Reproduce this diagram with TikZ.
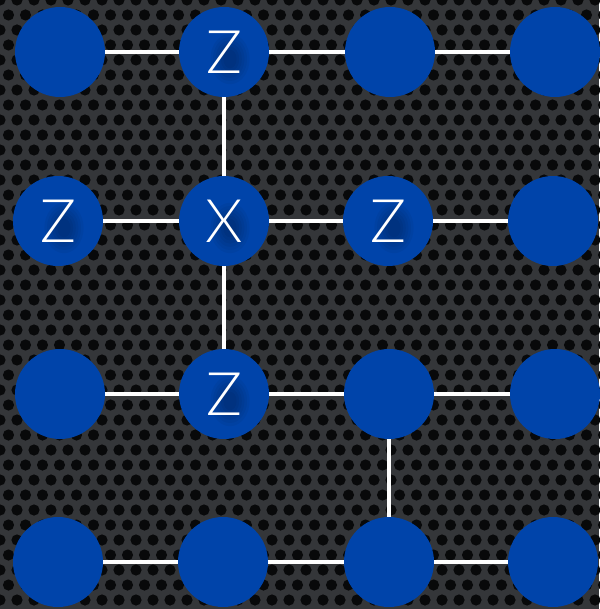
\documentclass[tikz,border=0pt]{standalone}
\usepackage{fontspec}
\newfontfamily\lblfont{Lato}[UprightFont=* Light]
\definecolor{qblue}{RGB}{0,68,170}
\definecolor{plate}{RGB}{52,54,57}
\definecolor{hole}{RGB}{8,9,10}
\begin{document}
\begin{tikzpicture}[x=1pt,y=-1pt,
  qubit/.style={circle,fill=qblue,minimum size=90pt,inner sep=0pt},
  lbl/.style={text=white,font=\lblfont\fontsize{60}{60}\selectfont,inner sep=0pt},
  bond/.style={draw=white,line width=3.6pt}]
\useasboundingbox (0,0) rectangle (599,609);
\fill[plate] (0,0) rectangle (599,609);
\foreach \r in {0,...,41}{
  \foreach \c in {0,...,36}{
    \pgfmathsetmacro{\xx}{\c*17+mod(\r,2)*8.5}
    \pgfmathsetmacro{\yy}{\r*15}
    \fill[hole] (\xx,\yy) circle (5.6);
  }
}
% positions
\coordinate (A1) at (60,52);  \coordinate (A2) at (224,52);  \coordinate (A3) at (390,52);  \coordinate (A4) at (555,52);
\coordinate (B1) at (58,221); \coordinate (B2) at (224,221); \coordinate (B3) at (388,221); \coordinate (B4) at (553,221);
\coordinate (C1) at (60,394); \coordinate (C2) at (224,394); \coordinate (C3) at (389,394); \coordinate (C4) at (555,394);
\coordinate (D1) at (58,562); \coordinate (D2) at (223,562); \coordinate (D3) at (389,562); \coordinate (D4) at (553,562);
% bonds (under the nodes)
\draw[bond] (A1) -- (A2) -- (A3) -- (A4);
\draw[bond] (B1) -- (B2) -- (B3) -- (B4);
\draw[bond] (C1) -- (C2) -- (C3) -- (C4);
\draw[bond] (D1) -- (D2) -- (D3) -- (D4);
\draw[bond] (A2) -- (B2) -- (C2);
\draw[bond] (C3) -- (D3);
% nodes
\foreach \n in {A1,A2,A3,A4,B1,B2,B3,B4,C1,C2,C3,C4,D1,D2,D3,D4}{
  \node[qubit] (n\n) at (\n) {};
}
% soft shadow blobs behind the letters
\foreach \n in {A2,B1,B2,B3,C2}{
  \foreach \k in {1,...,6}{
    \fill[black,opacity=0.045] ([shift={(6,7)}]\n) ellipse ({4+2.6*\k} and {6+3.2*\k});
  }
}
% labels
\foreach \n/\t in {A2/Z,B1/Z,B2/X,B3/Z,C2/Z}{
  \node[lbl] (l\n) at (\n) {\t};
}
\end{tikzpicture}
\end{document}
